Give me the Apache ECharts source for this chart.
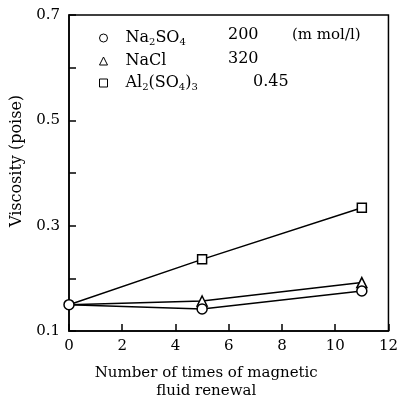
<!DOCTYPE html>
<html>
<head>
<meta charset="utf-8">
<script src="https://cdn.jsdelivr.net/npm/echarts@6/dist/echarts.min.js"></script>
<style>html,body{margin:0;padding:0;background:#fff}#c{width:401px;height:405px}</style>
</head>
<body>
<div id="c"></div>
<script>
var xValues = [0, 5, 11];
var na2so4 = [0.15, 0.142, 0.176];
var nacl = [0.15, 0.157, 0.192];
var al2so43 = [0.15, 0.236, 0.334];
var seriesNames = ['Na2SO4', 'NaCl', 'Al2(SO4)3'];
var seriesLabels = ['{n|Na}{s|2}{n|SO}{s|4}', '{n|NaCl}', '{n|Al}{s|2}{n|(SO}{s|4}{n|)}{s|3}'];
var concentrations = ['200', '320', '0.45'];
var symbols = ['circle', 'triangle', 'rect'];
var unitText = '(m mol/l)';
var xTicks = [0, 2, 4, 6, 8, 10, 12];
var yTicks = [0.1, 0.3, 0.5, 0.7];

var FONT = 'DejaVu Serif';
var chart = echarts.init(document.getElementById('c'));
var dataSets = [na2so4, nacl, al2so43];
var series = [];
for (var i = dataSets.length - 1; i >= 0; i--) {
  (function (i) {
    var vals = dataSets[i];
    series.push({
      name: seriesNames[i],
      type: 'line',
      data: xValues.map(function (x, j) {
        // shared starting point: only the circle marker is drawn there
        if (j === 0 && i !== 0) return { value: [x, vals[j]], symbol: 'none' };
        return [x, vals[j]];
      }),
      symbol: symbols[i],
      symbolSize: i === 2 ? 9 : 10,
      showAllSymbol: true,
      lineStyle: { color: '#000', width: 1.5 },
      itemStyle: { color: '#fff', borderColor: '#000', borderWidth: 1.5 },
      animation: false
    });
  })(i);
}

chart.setOption({
  backgroundColor: '#fff',
  animation: false,
  grid: { left: 69, right: 12, top: 15, bottom: 71, show: true, borderColor: '#000', borderWidth: 1.5, backgroundColor: 'transparent' },
  legend: {
    left: 94, top: 25, orient: 'vertical', itemGap: 6, itemWidth: 8, itemHeight: 8,
    data: seriesNames.map(function (n, i) {
      return { name: n, icon: symbols[i], itemStyle: { color: '#fff', borderColor: '#000', borderWidth: 1 } };
    }),
    formatter: function (name) { return seriesLabels[seriesNames.indexOf(name)]; },
    textStyle: {
      fontFamily: FONT, color: '#000', padding: [0, 0, 0, 13],
      rich: {
        n: { fontFamily: FONT, fontSize: 16, color: '#000' },
        s: { fontFamily: FONT, fontSize: 10, color: '#000', verticalAlign: 'bottom', padding: [8, 0, 0, 0] }
      }
    },
    selectedMode: false
  },
  graphic: concentrations.map(function (c, i) {
    return { type: 'text', left: i === 2 ? 253 : 228, top: 27 + i * 23.5, style: { text: c, font: '16px "' + FONT + '"', fill: '#000' } };
  }).concat([{ type: 'text', left: 292, top: 28, style: { text: unitText, font: '15px "' + FONT + '"', fill: '#000' } }]),
  xAxis: {
    type: 'value', min: xTicks[0], max: xTicks[xTicks.length - 1], interval: 2,
    name: 'Number of times of magnetic\nfluid renewal', nameLocation: 'middle', nameGap: 33,
    nameTextStyle: { fontFamily: FONT, fontSize: 15, color: '#000', lineHeight: 18, padding: [0, 45, 0, 0] },
    axisLine: { lineStyle: { color: '#000', width: 1.5 } },
    axisTick: { inside: true, length: 7, lineStyle: { color: '#000', width: 1.5 } },
    axisLabel: { fontFamily: FONT, fontSize: 15, color: '#000', margin: 8 },
    splitLine: { show: false }
  },
  yAxis: {
    type: 'value', min: yTicks[0], max: yTicks[yTicks.length - 1], interval: 0.2,
    name: 'Viscosity (poise)', nameLocation: 'middle', nameGap: 44,
    nameTextStyle: { fontFamily: FONT, fontSize: 16, color: '#000', padding: [0, 0, 0, 24] },
    axisLine: { lineStyle: { color: '#000', width: 1.5 } },
    axisTick: { inside: true, length: 7, lineStyle: { color: '#000', width: 1.5 } },
    minorTick: { show: true, splitNumber: 2, length: 7, lineStyle: { color: '#000', width: 1.5 } },
    axisLabel: { fontFamily: FONT, fontSize: 15, color: '#000', margin: 9, formatter: function (v) { return v.toFixed(1); } },
    splitLine: { show: false }
  },
  series: series
});
</script>
</body>
</html>
